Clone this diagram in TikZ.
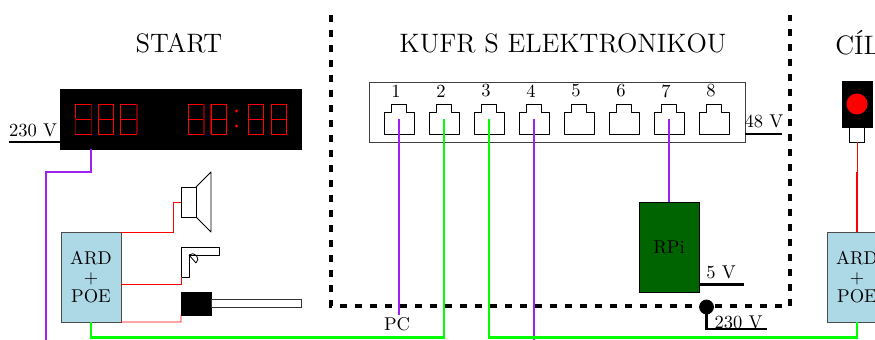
\documentclass[tikz,border=0pt]{standalone}
\definecolor{wpurple}{RGB}{160,32,240}
\definecolor{wgreen}{RGB}{0,255,0}
\definecolor{ardblue}{RGB}{173,216,230}
\definecolor{rpigreen}{RGB}{0,100,0}
\definecolor{segdark}{RGB}{120,0,0}
\tikzset{
  x=0.54pt,y=-0.54pt,
  purplewire/.style={draw=wpurple,line width=1.1pt},
  greenwire/.style={draw=wgreen,line width=1.1pt},
  redwire/.style={draw=red,line width=0.5pt},
  blackwire/.style={draw=black,line width=1.1pt},
  outline/.style={draw=black,line width=0.45pt},
  ardbox/.style={draw=black!70,line width=0.45pt,fill=ardblue,minimum width=32.4pt,minimum height=48.6pt,inner sep=0pt,outer sep=0pt,align=center,font=\fontsize{10}{10.2}\selectfont},
  seg/.style={draw=red,line width=0.5pt},
  segoff/.style={draw=segdark,line width=0.7pt},
  title/.style={font=\fontsize{14.4}{16}\selectfont,inner sep=0pt},
  lbl/.style={inner sep=0pt},
}
\newcommand{\digit}[2]{%
  \draw[seg] (#1,104) rectangle (#1+#2,134);
  \draw[seg] (#1,119) -- (#1+#2,119);
}
\newcommand{\rjport}[1]{%
  \draw[outline,line join=round] (#1-15,134) -- (#1-15,112) -- (#1-7.5,112) -- (#1-7.5,104) -- (#1+7.5,104) -- (#1+7.5,112) -- (#1+15,112) -- (#1+15,134) -- cycle;
}
\begin{document}
\begin{tikzpicture}
\useasboundingbox (0,0) rectangle (875,340);
\clip (0,0) rectangle (875,340);

% titles
\node[title] (tstart) at (179,43) {START};
\node[title] (tkufr) at (563,43) {KUFR S ELEKTRONIKOU};
\node[title,anchor=west] (tcil) at (835,43) {CÍL};

% case
\draw[black,line width=1.7pt,dash pattern=on 4pt off 4.1pt] (331,15) -- (331,306) -- (790,306) -- (790,15);

% display
\node[fill=black,draw=black,line width=0.4pt,minimum width=130.1pt,minimum height=32.6pt,inner sep=0pt,outer sep=0pt] (disp) at (181,119.3) {};
\digit{75}{16}\digit{98}{15.5}\digit{120.5}{16}
\digit{188.5}{15}\digit{211}{15.5}\digit{248}{15.5}\digit{271}{15.5}
\draw[segoff] (75.6,119) -- (75.6,134);
\draw[segoff] (91.6,104) -- (91.6,134);
\draw[segoff] (137,104) -- (137,134);
\draw[draw=red,line width=0.8pt] (75.6,104) -- (75.6,119);
\draw[segoff] (210.5,104) -- (210.5,134);
\draw[segoff] (204,104) -- (204,134);
\fill[red] (236.5,111) circle (1.6) (236.5,126) circle (1.6);

% switch
\node[draw=black!75,line width=0.45pt,minimum width=203pt,minimum height=32.4pt,inner sep=0pt,outer sep=0pt] (sw) at (557,112) {};
\foreach \i/\x in {1/399,2/444,3/489,4/534,5/579,6/624,7/669,8/714}{
  \rjport{\x}
  \coordinate (p\i) at (\x,119);
  \node[lbl] (n\i) at (\x-3,91) {\i};
}

% RPi
\node[draw=black,line width=0.4pt,fill=rpigreen,minimum width=32.4pt,minimum height=48.6pt,inner sep=0pt,outer sep=0pt] (rpi) at (669,247) {RPi};

% ARD boxes
\node[ardbox] (ardL) at (91,277) {ARD\\+\\POE};
\node[ardbox] (ardR) at (857,277) {ARD\\+\\POE};

% speaker
\node[outline,minimum width=8.1pt,minimum height=16.2pt,inner sep=0pt,outer sep=0pt] (spk) at (188.5,202) {};
\draw[outline,line join=round] (spk.north east) -- (211,172) -- (211,232) -- (spk.south east);

% sensor
\draw[outline,line join=round] (181,277) -- (181,247) -- (219,247) -- (219,255) -- (189,255) -- (189,277) -- cycle;
\draw[outline] (189,255) -- (196,263);
\draw[outline] (196,263) arc[start angle=49,end angle=-131,radius=5.3];
\coordinate (sens) at (181,277);

% barrier
\node[fill=black,draw=black,line width=0.4pt,minimum width=16.2pt,minimum height=12.4pt,inner sep=0pt,outer sep=0pt] (barm) at (196,303.5) {};
\node[draw=black!80,line width=0.45pt,fill=white,minimum width=48.6pt,minimum height=4pt,inner sep=0pt,outer sep=0pt,anchor=west] (bar) at (barm.east) {};

% traffic light
\node[fill=black,draw=black,line width=0.4pt,minimum width=16.2pt,minimum height=24.8pt,inner sep=0pt,outer sep=0pt] (light) at (857,104) {};
\fill[red] (light.center) circle (10.5);
\node[outline,fill=white,minimum width=8.1pt,minimum height=8.1pt,inner sep=0pt,outer sep=0pt,anchor=north] (lbase) at (light.south) {};

% red wires
\coordinate (ardmid) at (121,284.5);
\draw[redwire] (ardL.north east) -| (173.5,202) -- (spk.west);
\draw[redwire] (ardmid) -- (181,284.5) -- (sens);
\draw[redwire] (ardL.south east) -- (181,322) -- (barm.south west);
\coordinate (rmid) at (857,172);
\draw[redwire] (lbase.south) -- (rmid);
\draw[draw=red,line width=0.6pt] (rmid) -- (ardR.north);

% purple wires
\coordinate (pbot) at (46,340);
\coordinate (pcend) at (399,315);
\coordinate (p4end) at (534,340);
\draw[purplewire] (disp.south -| 91,0) -- (91,172) -- (46,172) -- (pbot);
\draw[purplewire] (p1) -- (pcend);
\draw[purplewire] (p4) -- (p4end);
\draw[purplewire] (p7) -- (rpi.north);

% green wires
\draw[greenwire] (p2) -- (444,337.5) -- (91,337.5) -- (ardL.south);
\draw[greenwire] (p3) -- (489,337.5) -- (857,337.5) -- (ardR.south);

% power
\coordinate (mL) at (9,142);
\draw[blackwire] (mL) -- (60,142);
\node[lbl] (v230a) at (33,130) {230 V};
\coordinate (m48) at (782,134);
\draw[blackwire] (745,134) -- (m48);
\node[lbl] (v48) at (764,121) {48 V};
\coordinate (m5) at (744,284.5);
\draw[blackwire] (699,284.5) -- (m5);
\node[lbl] (v5) at (721,272) {5 V};
\node[fill=black,circle,minimum size=8pt,inner sep=0pt,outer sep=0pt] (dot) at (706.5,307) {};
\coordinate (m230) at (767,329);
\draw[blackwire] (dot.center) -- (706.5,329) -- (m230);
\node[lbl] (v230b) at (738.5,322) {230 V};
\node[lbl] (pc) at (397,324) {PC};
\end{tikzpicture}
\end{document}
